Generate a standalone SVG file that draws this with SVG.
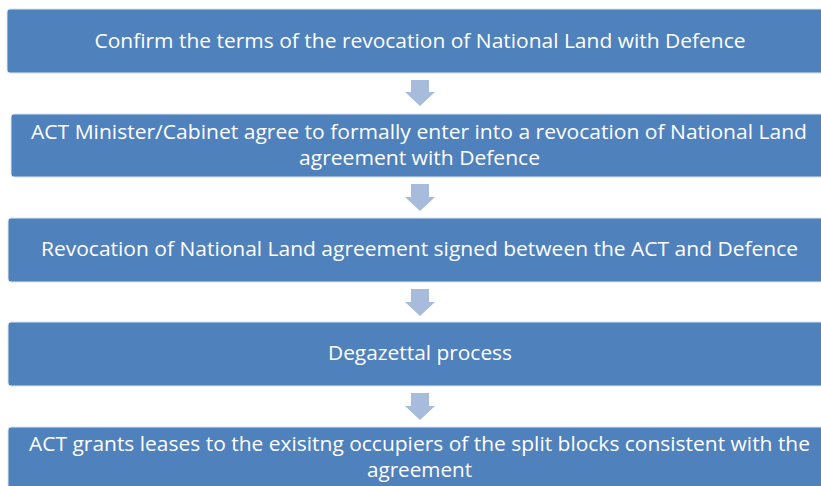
<svg xmlns="http://www.w3.org/2000/svg" width="821" height="486" viewBox="0 0 821 486">
  <style>
    .step { fill: #4F81BD; stroke: #DCE6F2; stroke-width: 1; }
    .label { fill: #FFFFFF; font-family: "Open Sans", "Noto Sans", "Liberation Sans", sans-serif; font-size: 20px; text-anchor: middle; }
    .arrow { fill: #A7BCDD; }
  </style>
  <rect width="821" height="486" fill="#FFFFFF"/>

  <g id="connectors">
    <polygon class="arrow" points="411,80 429,80 429,92 435,92 420,106 405,92 411,92"/>
    <polygon class="arrow" points="411,184 429,184 429,197 435,197 420,211 405,197 411,197"/>
    <polygon class="arrow" points="411,289 429,289 429,302 435,302 420,316 405,302 411,302"/>
    <polygon class="arrow" points="411,393 429,393 429,406 435,406 420,420 405,406 411,406"/>
  </g>

  <g id="step1">
    <rect class="step" x="7" y="9" width="826" height="64" rx="3"/>
    <text class="label" x="420" y="48" textLength="651" lengthAdjust="spacingAndGlyphs">Confirm the terms of the revocation of National Land with Defence</text>
  </g>

  <g id="step2">
    <rect class="step" x="11" y="114" width="822" height="63" rx="3"/>
    <text class="label" x="419" y="139" textLength="776" lengthAdjust="spacingAndGlyphs">ACT Minister/Cabinet agree to formally enter into a revocation of National Land</text>
    <text class="label" x="419.5" y="165" textLength="241" lengthAdjust="spacingAndGlyphs">agreement with Defence</text>
  </g>

  <g id="step3">
    <rect class="step" x="8" y="218" width="825" height="64" rx="3"/>
    <text class="label" x="419.5" y="256" textLength="757" lengthAdjust="spacingAndGlyphs">Revocation of National Land agreement signed between the ACT and Defence</text>
  </g>

  <g id="step4">
    <rect class="step" x="8" y="322" width="825" height="64" rx="3"/>
    <text class="label" x="420" y="360" textLength="184" lengthAdjust="spacingAndGlyphs">Degazettal process</text>
  </g>

  <g id="step5">
    <rect class="step" x="8" y="427" width="825" height="70" rx="3"/>
    <text class="label" x="419.5" y="451" textLength="781" lengthAdjust="spacingAndGlyphs">ACT grants leases to the exisitng occupiers of the split blocks consistent with the</text>
    <text class="label" x="419.5" y="477" textLength="105" lengthAdjust="spacingAndGlyphs">agreement</text>
  </g>
</svg>
